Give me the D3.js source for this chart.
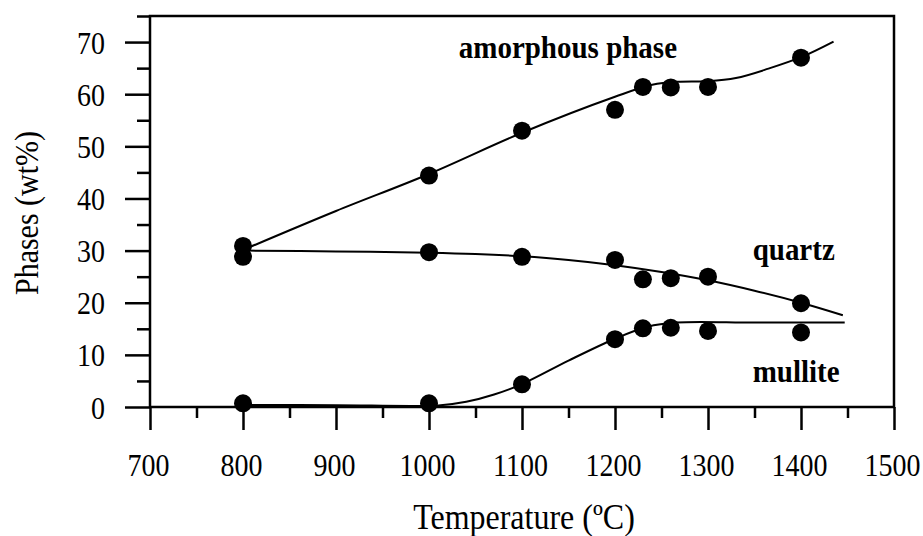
<!DOCTYPE html>
<meta charset="utf-8">
<style>
  body { margin: 0; background: #fff; }
  text { font-family: "Liberation Serif", "Times New Roman", serif; fill: #000; }
</style>
<body>
<div id="chart"></div>
<script src="https://cdn.jsdelivr.net/npm/d3@7"></script>
<script>

// measured points
var temps     = [800, 1000, 1100, 1200, 1230, 1260, 1300, 1400];
var amorphous = [30.9, 44.4, 53.0, 57.0, 61.4, 61.3, 61.4, 67.0];
var quartz    = [28.8, 29.7, 28.8, 28.2, 24.5, 24.7, 25.0, 19.9];
var mullite   = [0.7, 0.7, 4.35, 13.0, 15.1, 15.2, 14.6, 14.3];

// fitted curves
var amorphousFitT = [805, 900, 1000, 1100, 1200, 1240, 1270, 1300, 1330, 1365, 1400, 1435];
var amorphousFitV = [30.5, 37.6, 44.7, 52.6, 59.5, 61.8, 62.4, 62.5, 63.1, 64.9, 67.1, 70.1];
var quartzFitT = [805, 900, 1000, 1050, 1100, 1150, 1200, 1250, 1300, 1350, 1400, 1445];
var quartzFitV = [30.0, 29.85, 29.6, 29.35, 28.9, 28.2, 27.2, 25.9, 24.3, 22.3, 20.0, 17.6];
var mulliteFitT = [800, 900, 1010, 1040, 1070, 1100, 1150, 1200, 1235, 1266, 1350, 1447];
var mulliteFitV = [0.4, 0.35, 0.3, 1.0, 2.4, 4.4, 8.9, 13.1, 15.4, 16.2, 16.2, 16.2];

var xMajor = [700, 800, 900, 1000, 1100, 1200, 1300, 1400, 1500];
var xMinor = [750, 850, 950, 1050, 1150, 1250, 1350, 1450];
var yMajor = [0, 10, 20, 30, 40, 50, 60, 70];
var yMinor = [5, 15, 25, 35, 45, 55, 65, 75];

var seriesLabels = [
    {text: "amorphous phase", t: 1032, v: 67.0},
    {text: "quartz",          t: 1348, v: 28.2},
    {text: "mullite",         t: 1348, v: 4.85}
];

var width = 923, height = 536;
var plotLeft = 150, plotRight = 894, plotTop = 16, plotBottom = 407;
var stretch = 1.1; // the source lettering is a little taller than wide

var svg = d3.select("#chart").append("svg")
    .attr("width", width)
    .attr("height", height);

var x = d3.scaleLinear().domain([700, 1500]).range([plotLeft, plotRight]);
var y = d3.scaleLinear().domain([0, 75]).range([plotBottom, plotTop]);

// frame
svg.append("rect")
   .attr("x", plotLeft).attr("y", plotTop)
   .attr("width", plotRight - plotLeft).attr("height", plotBottom - plotTop)
   .attr("fill", "none").attr("stroke", "#000").attr("stroke-width", 2.5);

// x axis
var xAxisMajor = svg.append("g")
    .attr("transform", "translate(0," + plotBottom + ")")
    .call(d3.axisBottom(x).tickValues(xMajor).tickSize(23).tickSizeOuter(0).tickFormat(d3.format("d")));
svg.append("g")
    .attr("transform", "translate(0," + plotBottom + ")")
    .call(d3.axisBottom(x).tickValues(xMinor).tickSize(11).tickSizeOuter(0).tickFormat(""));

xAxisMajor.selectAll("text")
    .attr("transform", "scale(1," + stretch + ")")
    .attr("y", 69 / stretch).attr("dy", null).attr("x", -2)
    .style("font-size", "28px");

// y axis
var yAxisMajor = svg.append("g")
    .attr("transform", "translate(" + plotLeft + ",0)")
    .call(d3.axisLeft(y).tickValues(yMajor).tickSize(25).tickSizeOuter(0));
svg.append("g")
    .attr("transform", "translate(" + plotLeft + ",0)")
    .call(d3.axisLeft(y).tickValues(yMinor).tickSize(13).tickSizeOuter(0).tickFormat(""));

yAxisMajor.selectAll("text")
    .attr("transform", "scale(1," + stretch + ")")
    .attr("x", -45).attr("dy", null).attr("y", 11 / stretch)
    .style("font-size", "28px");

svg.selectAll(".domain").remove();
svg.selectAll(".tick line").attr("stroke", "#000").attr("stroke-width", 2.5);

// fitted lines
var line = d3.line()
    .x(d => x(d[0]))
    .y(d => y(d[1]))
    .curve(d3.curveCatmullRom.alpha(0.5));

var fits = [
    [amorphousFitT, amorphousFitV],
    [quartzFitT, quartzFitV],
    [mulliteFitT, mulliteFitV]
];

svg.append("g").selectAll("path")
   .data(fits)
   .enter().append("path")
   .attr("d", f => line(f[0].map((t, i) => [t, f[1][i]])))
   .attr("fill", "none")
   .attr("stroke", "#000")
   .attr("stroke-width", 2);

// points
var points = [];
[amorphous, quartz, mullite].forEach(function(s) {
    s.forEach((v, i) => points.push([temps[i], v]));
});

svg.append("g").selectAll("circle")
   .data(points)
   .enter().append("circle")
   .attr("cx", d => x(d[0]))
   .attr("cy", d => y(d[1]))
   .attr("r", 9)
   .attr("fill", "#000");

// series labels
svg.append("g").selectAll("text")
   .data(seriesLabels)
   .enter().append("text")
   .attr("transform", d => "translate(" + x(d.t) + "," + y(d.v) + ") scale(1," + stretch + ")")
   .style("font-size", "29px")
   .style("font-weight", "bold")
   .text(d => d.text);

// axis titles
svg.append("text")
   .attr("transform", "translate(524,529) scale(1," + stretch + ")")
   .attr("text-anchor", "middle")
   .style("font-size", "32px")
   .text("Temperature (ºC)");

svg.append("text")
   .attr("transform", "translate(38,213) rotate(-90) scale(1," + stretch + ")")
   .attr("text-anchor", "middle")
   .style("font-size", "30px")
   .text("Phases (wt%)");

</script>
